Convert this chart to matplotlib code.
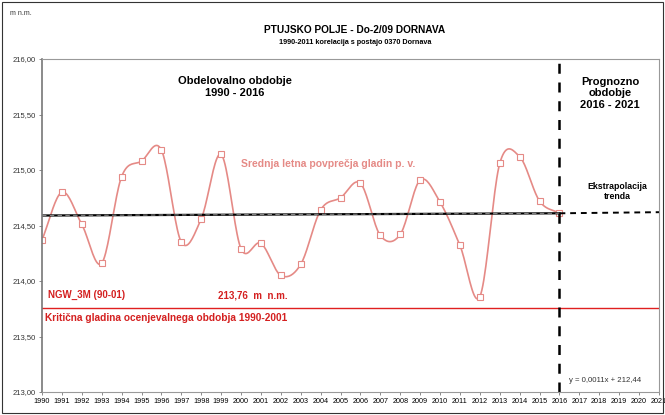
import matplotlib.pyplot as plt
import numpy as np

# mean annual groundwater levels (m n.m.)
years = [1990, 1991, 1992, 1993, 1994, 1995, 1996, 1997, 1998, 1999, 2000, 2001, 2002,
         2003, 2004, 2005, 2006, 2007, 2008, 2009, 2010, 2011, 2012, 2013, 2014, 2015, 2016]
levels = [214.37, 214.80, 214.51, 214.16, 214.94, 215.08, 215.18, 214.35, 214.56, 215.14,
          214.29, 214.34, 214.05, 214.15, 214.64, 214.75, 214.88, 214.41, 214.42, 214.91,
          214.71, 214.32, 213.86, 215.06, 215.12, 214.72, 214.61]

trend_years = [1990, 2016]
trend_vals = [214.59, 214.61]
extra_years = [2016, 2021]
extra_vals = [214.61, 214.62]
ngw = 213.76

xticks = list(range(1990, 2022))
yticks = [213.0, 213.5, 214.0, 214.5, 215.0, 215.5, 216.0]
ylabels = ["213,00", "213,50", "214,00", "214,50", "215,00", "215,50", "216,00"]

plt.rcParams['font.family'] = ['Liberation Sans', 'DejaVu Sans']

def smooth(x, y, n=20):
    # Catmull-Rom style smoothing like Excel's "smoothed line"
    x = np.asarray(x, float); y = np.asarray(y, float)
    px = np.concatenate([[2*x[0]-x[1]], x, [2*x[-1]-x[-2]]])
    py = np.concatenate([[2*y[0]-y[1]], y, [2*y[-1]-y[-2]]])
    xs, ys = [], []
    t = np.linspace(0, 1, n, endpoint=False)
    for i in range(1, len(px)-2):
        for arr, out in ((px, xs), (py, ys)):
            p0, p1, p2, p3 = arr[i-1], arr[i], arr[i+1], arr[i+2]
            out.extend(0.5*((2*p1) + (-p0+p2)*t + (2*p0-5*p1+4*p2-p3)*t**2 + (-p0+3*p1-3*p2+p3)*t**3))
    xs.append(x[-1]); ys.append(y[-1])
    return xs, ys

fig = plt.figure(figsize=(6.65, 4.15), dpi=100)
fig.patches.append(plt.Rectangle((0.003, 0.005), 0.994, 0.99, transform=fig.transFigure,
                                 fill=False, edgecolor="#333333", linewidth=0.8))
ax = fig.add_axes([42/665, 1-392/415, (659-42)/665, (392-59)/415])

pink = "#e58a86"
sx, sy = smooth(years, levels)
ax.plot(sx, sy, color=pink, linewidth=1.2)
ax.plot(years, levels, "s", markersize=4.5, markerfacecolor="white", markeredgecolor=pink,
        markeredgewidth=0.8, linestyle="none")

ax.plot(trend_years, trend_vals, color="black", linewidth=1.6)
ax.plot(trend_years, trend_vals, color="#888888", linewidth=0.8, dashes=(4, 3))
ax.plot(extra_years, extra_vals, color="black", linewidth=1.4, dashes=(3, 2.5))
ax.axhline(ngw, color="#e02020", linewidth=1.0)
ax.axvline(2016, color="black", linewidth=1.8, dashes=(4, 3.5))

ax.set_xlim(1990, 2021)
ax.set_ylim(213, 216)
ax.set_xticks(xticks)
ax.set_xticklabels([str(y) for y in xticks], fontsize=5.2)
ax.set_yticks(yticks)
ax.set_yticklabels(ylabels, fontsize=5.5, color="#333333")
ax.tick_params(length=2.5, width=0.6, color="#777777", pad=2)
for s in ax.spines.values():
    s.set_color("#999999")
    s.set_linewidth(0.8)
ax.spines['left'].set_color("#777777")
ax.spines['left'].set_linewidth(1.2)

fig.text(10/665, 1-15/415, "m n.m.", fontsize=5, color="#333333")
fig.text(355/665, 1-30/415, "PTUJSKO POLJE - Do-2/09 DORNAVA", fontsize=7.3, fontweight="bold",
         ha="center", va="center")
fig.text(355/665, 1-42/415, "1990-2011 korelacija s postajo 0370 Dornava", fontsize=5.2,
         fontweight="bold", ha="center", va="center")

ax.text(1999.7, 215.75, "Obdelovalno obdobje\n1990 - 2016", fontsize=8, fontweight="bold",
        ha="center", va="center", linespacing=1.25)
ax.text(2018.55, 215.69, "Prognozno\nobdobje\n2016 - 2021", fontsize=8, fontweight="bold",
        ha="center", va="center", linespacing=1.2)
ax.text(2004.4, 215.05, "Srednja letna povprečja gladin p. v.", fontsize=7.5, fontweight="bold",
        color=pink, ha="center", va="center")
ax.text(2018.9, 214.81, "Ekstrapolacija\ntrenda", fontsize=6.3, fontweight="bold",
        ha="center", va="center", linespacing=1.15)
ax.text(1990.3, 213.87, "NGW_3M (90-01)", fontsize=7, fontweight="bold", color="#d42020",
        va="center")
ax.text(1998.85, 213.87, "213,76  m  n.m.", fontsize=7, fontweight="bold", color="#d42020",
        va="center")
ax.text(1990.15, 213.67, "Kritična gladina ocenjevalnega obdobja 1990-2001", fontsize=7.3,
        fontweight="bold", color="#d42020", va="center")
ax.text(2016.5, 213.1, "y = 0,0011x + 212,44", fontsize=5.6, color="#333333", va="center")

fig.savefig("out.png", dpi=100)
